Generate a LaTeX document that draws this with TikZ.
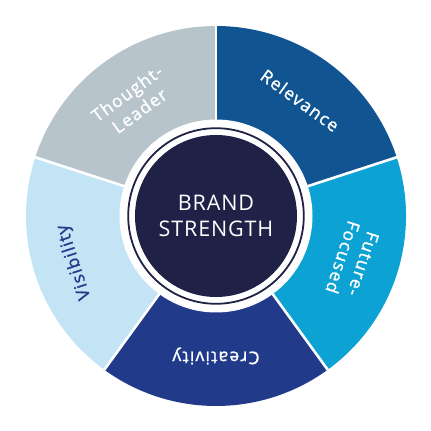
\documentclass[tikz,border=0pt]{standalone}
\usepackage{fontspec}
\setmainfont{Open Sans}
\newfontfamily\lab[LetterSpace=7,FakeBold=1.2]{Open Sans}
\newfontfamily\ctr[LetterSpace=4]{Open Sans}
\usetikzlibrary{calc}
\definecolor{cRel}{RGB}{16,85,145}
\definecolor{cFut}{RGB}{12,162,212}
\definecolor{cCre}{RGB}{33,58,138}
\definecolor{cVis}{RGB}{195,228,244}
\definecolor{cTho}{RGB}{183,196,204}
\definecolor{cCtr}{RGB}{31,34,70}
\tikzset{
  seglabel/.style={font=\lab\fontsize{17.5}{21.5}\selectfont, align=center, inner sep=0pt},
  sep/.style={white, line width=2.6pt},
}
\begin{document}
\begin{tikzpicture}[x=1pt,y=1pt]
\useasboundingbox (0,0) rectangle (431,431);
\coordinate (c) at (216,215);
% segments
\fill[cRel] (c) -- ++(90:190) arc[start angle=90, end angle=18, radius=190] -- cycle;
\fill[cFut] (c) -- ++(18:190) arc[start angle=18, end angle=-54, radius=190] -- cycle;
\fill[cCre] (c) -- ++(-54:190) arc[start angle=-54, end angle=-126, radius=190] -- cycle;
\fill[cVis] (c) -- ++(-126:190) arc[start angle=-126, end angle=-198, radius=190] -- cycle;
\fill[cTho] (c) -- ++(162:190) arc[start angle=162, end angle=90, radius=190] -- cycle;
% separators
\foreach \a in {90,18,-54,-126,162} \draw[sep] (c) -- ++(\a:192);
% inner
\fill[white] (c) circle[radius=96.5];
\draw[cCtr, line width=1.8pt] (c) circle[radius=87.8];
\fill[cCtr] (c) circle[radius=81];
\node[font=\ctr\fontsize{21.5}{26}\selectfont, text=white, align=center] (center) at (c) {BRAND\\STRENGTH};
% labels
\node[seglabel, text=white, rotate=-36] (rel) at ($(c)+(54:143)$) {Relevance};
\node[seglabel, text=white, rotate=-108] (fut) at ($(c)+(-18:144)$) {Future-\\Focused};
\node[seglabel, text=white, rotate=180] (cre) at ($(c)+(-90:140)$) {Creativity};
\node[seglabel, text=cCre, rotate=108] (vis) at ($(c)+(198:149)$) {Visibility};
\node[seglabel, text=white, rotate=36] (tho) at ($(c)+(126:141)$) {Thought-\\Leader};
\end{tikzpicture}
\end{document}
